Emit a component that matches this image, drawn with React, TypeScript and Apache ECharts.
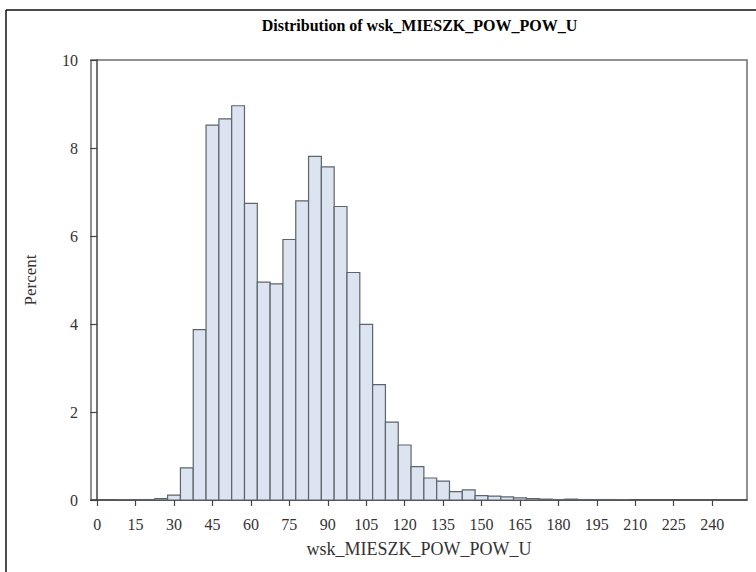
import React, { useEffect, useRef } from "react";
import * as echarts from "echarts";

const binCenters = [10, 15, 20, 25, 30, 35, 40, 45, 50, 55, 60, 65, 70, 75, 80, 85, 90, 95, 100, 105, 110, 115, 120, 125, 130, 135, 140, 145, 150, 155, 160, 165, 170, 175, 180, 185, 190, 195, 200, 205];
const percents = [0.01, 0.01, 0.01, 0.03, 0.11, 0.73, 3.87, 8.52, 8.66, 8.96, 6.74, 4.95, 4.91, 5.92, 6.8, 7.81, 7.57, 6.67, 5.17, 3.99, 2.62, 1.77, 1.25, 0.76, 0.5, 0.43, 0.19, 0.23, 0.1, 0.09, 0.07, 0.05, 0.03, 0.02, 0.01, 0.02, 0.01, 0.01, 0.01, 0.005];
const binWidth = 5;
const xTicks = [0, 15, 30, 45, 60, 75, 90, 105, 120, 135, 150, 165, 180, 195, 210, 225, 240];
const yTicks = [0, 2, 4, 6, 8, 10];
const title = "Distribution of wsk_MIESZK_POW_POW_U";
const xName = "wsk_MIESZK_POW_POW_U";
const yName = "Percent";

const FONT = '"Liberation Serif", "DejaVu Serif", serif';

export default function App() {
  const ref = useRef<HTMLDivElement>(null);
  useEffect(() => {
    if (!ref.current) return;
    const chart = echarts.init(ref.current, null, { renderer: "svg" });
    const data = binCenters.map((c, i) => [c, percents[i]]);
    chart.setOption({
      animation: false,
      backgroundColor: "#ffffff",
      textStyle: { fontFamily: FONT },
      grid: {
        left: 91,
        right: 9,
        top: 60,
        bottom: 72,
        show: true,
        borderColor: "#6e6e6e",
        borderWidth: 1.5,
        backgroundColor: "transparent",
      },
      graphic: [
        {
          type: "line",
          shape: { x1: 6, y1: 10, x2: 756, y2: 10 },
          style: { stroke: "#111", lineWidth: 1.5 },
        },
        {
          type: "line",
          shape: { x1: 6, y1: 10, x2: 6, y2: 572 },
          style: { stroke: "#111", lineWidth: 1.5 },
        },
        {
          type: "text",
          x: 419.5,
          y: 25,
          style: {
            text: title,
            textAlign: "center",
            textVerticalAlign: "middle",
            font: `bold 16px ${FONT}`,
            fill: "#000",
          },
        },
      ],
      xAxis: {
        type: "value",
        min: -2.4,
        max: 253.6,
        name: xName,
        nameLocation: "middle",
        nameGap: 40,
        nameTextStyle: { fontFamily: FONT, fontSize: 18, color: "#333" },
        splitLine: { show: false },
        axisLine: { show: true, onZero: false, lineStyle: { color: "#444", width: 1.5 } },
        axisTick: { show: true, length: 6, customValues: xTicks, lineStyle: { color: "#444", width: 1.2 } },
        axisLabel: { customValues: xTicks, margin: 16, fontFamily: FONT, fontSize: 16, color: "#333" },
      },
      yAxis: {
        type: "value",
        min: 0,
        max: 10,
        interval: 2,
        name: yName,
        nameLocation: "middle",
        nameGap: 52,
        nameTextStyle: { fontFamily: FONT, fontSize: 17, color: "#333" },
        splitLine: { show: false },
        axisLine: { show: true, lineStyle: { color: "#444", width: 1.5 } },
        axisTick: { show: true, length: 7, customValues: yTicks, lineStyle: { color: "#444", width: 1.2 } },
        axisLabel: { margin: 13, fontFamily: FONT, fontSize: 16, color: "#333" },
      },
      series: [
        {
          type: "custom",
          data,
          clip: true,
          renderItem: (params: any, api: any) => {
            const x = api.value(0);
            const y = api.value(1);
            const p0 = api.coord([x - binWidth / 2, 0]);
            const p1 = api.coord([x + binWidth / 2, y]);
            return {
              type: "rect",
              shape: { x: p0[0], y: p1[1], width: p1[0] - p0[0], height: p0[1] - p1[1] },
              style: { fill: "#dbe4f0", stroke: "#5d646c", lineWidth: 1.2 },
            };
          },
        },
      ],
    });
    return () => chart.dispose();
  }, []);
  return (
    <div
      ref={ref}
      style={{ position: "fixed", left: 0, top: 0, width: 756, height: 572, background: "#fff" }}
    />
  );
}
